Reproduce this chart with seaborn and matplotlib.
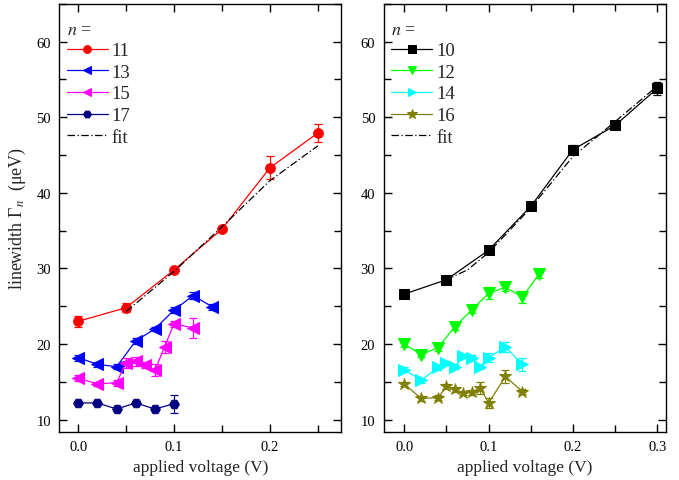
import numpy as np
import pandas as pd
import matplotlib
matplotlib.use("Agg")
import matplotlib.pyplot as plt
from matplotlib.ticker import MultipleLocator, FixedLocator
import seaborn as sns

# ---------------- data ----------------
# left panel
x11 = [0.0, 0.05, 0.10, 0.15, 0.20, 0.25]
y11 = [23.0, 24.8, 29.8, 35.2, 43.3, 47.9]
e11 = [0.7, 0.6, 0.3, 0.3, 1.5, 1.2]

x13 = [0.0, 0.02, 0.04, 0.06, 0.08, 0.10, 0.12, 0.14]
y13 = [18.2, 17.3, 17.0, 20.4, 22.0, 24.5, 26.4, 24.9]
e13 = [0.4, 0.3, 0.3, 0.4, 0.3, 0.4, 0.5, 0.4]

x15 = [0.0, 0.02, 0.04, 0.05, 0.06, 0.07, 0.08, 0.09, 0.10, 0.12]
y15 = [15.5, 14.7, 14.9, 17.5, 17.7, 17.2, 16.5, 19.6, 22.7, 22.1]
e15 = [0.4, 0.3, 0.4, 0.7, 0.6, 0.4, 0.8, 0.8, 0.4, 1.3]

x17 = [0.0, 0.02, 0.04, 0.06, 0.08, 0.10]
y17 = [12.2, 12.2, 11.4, 12.2, 11.4, 12.1]
e17 = [0.2, 0.2, 0.2, 0.2, 0.2, 1.2]

xfitL = [0.05, 0.10, 0.15, 0.20, 0.25]
yfitL = [24.3, 29.6, 35.5, 41.6, 46.2]

# right panel
x10 = [0.0, 0.05, 0.10, 0.15, 0.20, 0.25, 0.30]
y10 = [26.6, 28.5, 32.4, 38.2, 45.7, 48.9, 53.8]
e10 = [0.3, 0.3, 0.4, 0.3, 0.6, 0.5, 0.9]

x12 = [0.0, 0.02, 0.04, 0.06, 0.08, 0.10, 0.12, 0.14, 0.16]
y12 = [20.0, 18.6, 19.5, 22.3, 24.5, 26.7, 27.5, 26.2, 29.3]
e12 = [0.4, 0.3, 0.4, 0.4, 0.4, 0.8, 0.5, 0.8, 0.6]

x14 = [0.0, 0.02, 0.04, 0.05, 0.06, 0.07, 0.08, 0.09, 0.10, 0.12, 0.14]
y14 = [16.6, 15.2, 16.9, 17.5, 17.0, 18.4, 18.2, 17.0, 18.2, 19.6, 17.3]
e14 = [0.3, 0.3, 0.3, 0.3, 0.3, 0.3, 0.3, 0.3, 0.6, 0.7, 0.9]

x16 = [0.0, 0.02, 0.04, 0.05, 0.06, 0.07, 0.08, 0.09, 0.10, 0.12, 0.14]
y16 = [14.7, 12.8, 12.9, 14.4, 14.0, 13.5, 13.6, 14.2, 12.2, 15.7, 13.7]
e16 = [0.3, 0.3, 0.3, 0.3, 0.3, 0.3, 0.3, 0.8, 0.7, 0.8, 0.3]

xfitR = [0.05, 0.075, 0.10, 0.15, 0.20, 0.25, 0.30]
yfitR = [28.5, 29.8, 32.1, 38.0, 44.8, 49.4, 54.1]

x_ticks_L = [0.0, 0.1, 0.2]
x_ticks_R = [0.0, 0.1, 0.2, 0.3]
y_ticks = [10, 20, 30, 40, 50, 60]

# ---------------- style ----------------
sns.set_style("ticks")
plt.rcParams['font.family'] = ['Liberation Serif', 'DejaVu Serif']
plt.rcParams['mathtext.fontset'] = 'stix'
plt.rcParams['xtick.direction'] = 'in'
plt.rcParams['ytick.direction'] = 'in'
plt.rcParams['axes.edgecolor'] = 'black'
plt.rcParams['axes.linewidth'] = 1.0

fig = plt.figure(figsize=(6.79, 4.81), dpi=100)
axL = fig.add_axes([59.3/679, 1-432.7/481, (341.3-59.3)/679, (432.7-4.7)/481])
axR = fig.add_axes([383.7/679, 1-432.7/481, (665.7-383.7)/679, (432.7-4.7)/481])

def series(ax, x, y, e, color, marker, label, ms=7):
    df = pd.DataFrame({"x": x, "y": y})
    sns.lineplot(data=df, x="x", y="y", ax=ax, color=color, marker=marker,
                 markersize=ms, markeredgecolor=color, linewidth=0.9,
                 label=label, sort=False)
    ax.errorbar(x, y, yerr=e, fmt='none', ecolor=color, elinewidth=0.9,
                capsize=3, capthick=0.9)

def fit(ax, x, y):
    df = pd.DataFrame({"x": x, "y": y})
    sns.lineplot(data=df, x="x", y="y", ax=ax, color='black', linewidth=0.9,
                 linestyle=(0, (6, 2, 1, 2)), label='fit', sort=False)

series(axL, x11, y11, e11, '#ff0000', 'o', '11')
series(axL, x13, y13, e13, '#0000ff', '<', '13', ms=8)
series(axL, x15, y15, e15, '#ff00ff', '<', '15', ms=8)
series(axL, x17, y17, e17, '#000080', 'H', '17')
fit(axL, xfitL, yfitL)

series(axR, x10, y10, e10, '#000000', 's', '10', ms=6.5)
series(axR, x12, y12, e12, '#00ff00', 'v', '12', ms=8)
series(axR, x14, y14, e14, '#00ffff', '>', '14', ms=8)
series(axR, x16, y16, e16, '#808000', '*', '16', ms=9)
fit(axR, xfitR, yfitR)

for ax, xl, xt in [(axL, (-0.0198, 0.2745), x_ticks_L), (axR, (-0.0244, 0.3100), x_ticks_R)]:
    ax.set_xlim(*xl)
    ax.set_ylim(8.4, 65.0)
    ax.xaxis.set_major_locator(FixedLocator(xt))
    ax.xaxis.set_minor_locator(MultipleLocator(0.05))
    ax.yaxis.set_major_locator(FixedLocator(y_ticks))
    ax.yaxis.set_minor_locator(MultipleLocator(5))
    ax.xaxis.set_major_formatter(matplotlib.ticker.FormatStrFormatter('%.1f'))
    ax.tick_params(which='both', top=True, right=True, length=6, width=1,
                   labelsize=10.5, colors='black', pad=6)
    ax.tick_params(which='minor', length=5)
    for s in ax.spines.values():
        s.set_visible(True)
        s.set_linewidth(1.0)
    ax.set_xlabel('applied voltage (V)', fontsize=12.5, labelpad=4)
    ax.set_ylabel('')
    leg = ax.legend(loc='upper left', bbox_to_anchor=(0.0, 0.978),
                    title='$n$ =', frameon=False,
                    fontsize=13.5, title_fontsize=13, handlelength=2.2,
                    handletextpad=0.2, labelspacing=0.24, borderaxespad=0.0,
                    borderpad=0.4, markerscale=0.8, alignment='left')

axL.set_ylabel('linewidth Γ$_{n}$  (μeV)', fontsize=13, labelpad=6)

fig.savefig('out.png', dpi=100)
